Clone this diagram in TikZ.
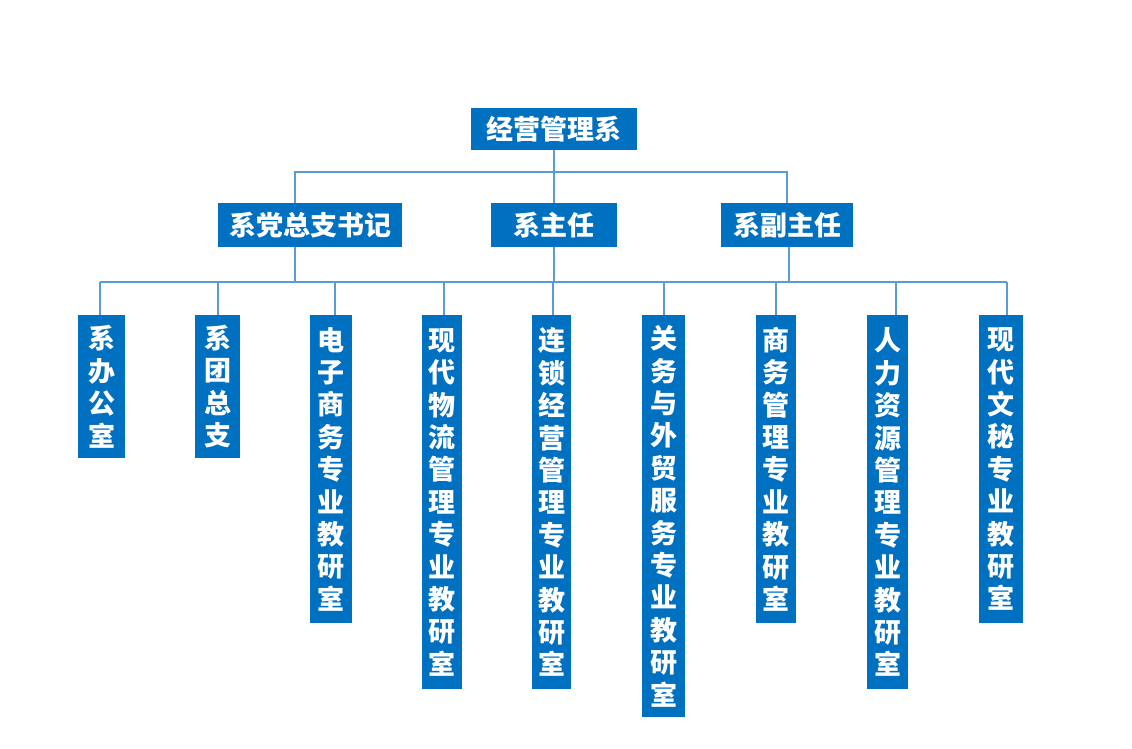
\documentclass[tikz,border=0pt]{standalone}
\usepackage{fontspec}
\newfontfamily\cjk{Noto Sans CJK SC}
\definecolor{boxblue}{HTML}{0070C0}
\definecolor{lineblue}{HTML}{5B9BD5}
\begin{document}
\begin{tikzpicture}[x=1pt,y=-1pt,
  box/.style={fill=boxblue,text=white,inner sep=0pt,
    font=\cjk\bfseries\fontsize{27}{32.4}\selectfont,align=center},
  hbox/.style={box,anchor=center,minimum height=44pt},
  vbox/.style={box,anchor=north},
  link/.style={draw=lineblue,line width=2pt}]
\path[use as bounding box,fill=white] (0,0) rectangle (1132,748);

% top and second level
\node[hbox,minimum width=166pt,minimum height=42pt] (top) at (554,129) {经营管理系};
\node[hbox,minimum width=184pt] (A) at (310,225) {系党总支书记};
\node[hbox,minimum width=126pt] (B) at (554,225) {系主任};
\node[hbox,minimum width=132pt] (C) at (787,225) {系副主任};

% third level
\node[vbox,minimum width=47pt,minimum height=143pt] (n1) at (101.5,315) {系\\办\\公\\室};
\node[vbox,minimum width=45pt,minimum height=143pt] (n2) at (217.5,315) {系\\团\\总\\支};
\node[vbox,minimum width=42pt,minimum height=308pt] (n3) at (331,315) {电\\子\\商\\务\\专\\业\\教\\研\\室};
\node[vbox,minimum width=40pt,minimum height=374pt] (n4) at (442,315) {现\\代\\物\\流\\管\\理\\专\\业\\教\\研\\室};
\node[vbox,minimum width=39pt,minimum height=374pt] (n5) at (551.5,315) {连\\锁\\经\\营\\管\\理\\专\\业\\教\\研\\室};
\node[vbox,minimum width=43pt,minimum height=402pt] (n6) at (663.5,315) {关\\务\\与\\外\\贸\\服\\务\\专\\业\\教\\研\\室};
\node[vbox,minimum width=40pt,minimum height=308pt] (n7) at (776,315) {商\\务\\管\\理\\专\\业\\教\\研\\室};
\node[vbox,minimum width=41pt,minimum height=374pt] (n8) at (887.5,315) {人\\力\\资\\源\\管\\理\\专\\业\\教\\研\\室};
\node[vbox,minimum width=44pt,minimum height=308pt] (n9) at (1001,315) {现\\代\\文\\秘\\专\\业\\教\\研\\室};

% bus coordinates
\coordinate (bl) at (295,172);
\coordinate (br) at (787,172);
\coordinate (sa) at (295,282);
\coordinate (sc) at (789,282);
\coordinate (d1) at (100,282);
\coordinate (d2) at (218,282);
\coordinate (d3) at (335,282);
\coordinate (d4) at (444,282);
\coordinate (d5) at (553,282);
\coordinate (d6) at (664,282);
\coordinate (d7) at (776,282);
\coordinate (d8) at (896,282);
\coordinate (d9) at (1007,282);

% connectors
\draw[link] (top.south) -- (B.north);
\draw[link] (A.north -| bl) -- (bl) -- (br) -- (C.north -| br);
\draw[link] (A.south -| sa) -- (sa);
\draw[link] (B.south) -- (B.south |- d5);
\draw[link] (C.south -| sc) -- (sc);
\draw[link] (d1) -- (d9);
\foreach \i in {1,...,9} {
  \draw[link] (d\i) -- (d\i |- n\i.north);
}
\end{tikzpicture}
\end{document}
